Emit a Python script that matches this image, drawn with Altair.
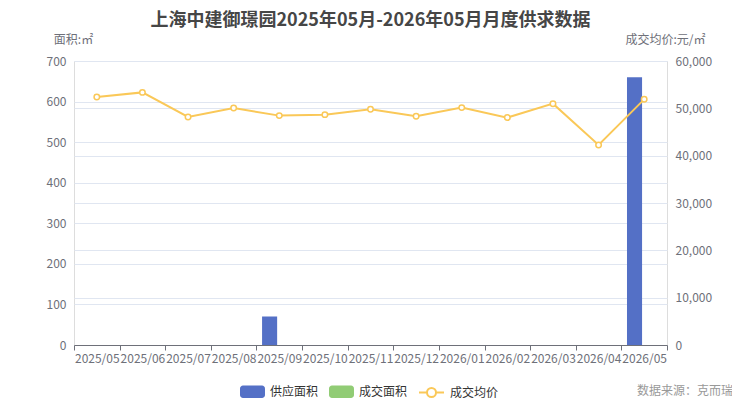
import altair as alt
import pandas as pd

months = ["2025/05", "2025/06", "2025/07", "2025/08", "2025/09", "2025/10", "2025/11",
          "2025/12", "2026/01", "2026/02", "2026/03", "2026/04", "2026/05"]
supply_area = [0, 0, 0, 0, 70, 0, 0, 0, 0, 0, 0, 0, 660]
deal_area = [0, 0, 0, 0, 0, 0, 0, 0, 0, 0, 0, 0, 0]
avg_price = [52380, 53370, 48170, 50060, 48460, 48670, 49790, 48310, 50150, 48040, 50990, 42260, 51900]

series_bar = ["供应面积", "成交面积"]
series_line = ["成交均价"]
bar_colors = ["#5470C6", "#91CC75"]
line_color = "#FAC858"

FONT = "Noto Sans CJK SC"
GRID = "#E0E6F1"
AXC = "#6E7079"

bar_df = pd.DataFrame({
    "month": months * 2,
    "series": [series_bar[0]] * len(months) + [series_bar[1]] * len(months),
    "value": supply_area + deal_area,
})
line_df = pd.DataFrame({"month": months, "series": series_line[0], "price": avg_price})

rect_path = ("M-0.76,-0.5 H0.76 A0.24,0.24 0 0 1 1,-0.26 V0.26 A0.24,0.24 0 0 1 0.76,0.5 "
             "H-0.76 A0.24,0.24 0 0 1 -1,0.26 V-0.26 A0.24,0.24 0 0 1 -0.76,-0.5 Z")
line_path = ("M-1,0 H-0.36 M0.36,0 H1 M0.36,0 A0.36,0.36 0 1 1 -0.36,0 "
             "A0.36,0.36 0 1 1 0.36,0")

x_axis = alt.Axis(title=None, tickBand="extent", labelAngle=0, labelFontSize=12,
                  labelColor=AXC, domainColor=AXC, tickColor=AXC, tickSize=5,
                  labelPadding=3, grid=False, labelOverlap=False, labelBound=False,
                  labelFlush=False, labelFont=FONT)

x_enc = alt.X("month:N", sort=months, scale=alt.Scale(paddingInner=0, paddingOuter=0),
              axis=x_axis)

bars = alt.Chart(bar_df).mark_bar().encode(
    x=x_enc,
    xOffset=alt.XOffset("series:N", sort=series_bar,
                        scale=alt.Scale(paddingInner=0.22, paddingOuter=0.29)),
    y=alt.Y("value:Q",
            scale=alt.Scale(domain=[0, 700], nice=False),
            axis=alt.Axis(orient="left", values=list(range(0, 701, 100)), grid=True,
                          gridColor=GRID, domain=False, ticks=False, labelPadding=8,
                          labelColor=AXC, labelFontSize=12, labelFont=FONT,
                          title="面积:㎡", titleAngle=0, titleX=-1, titleY=-22,
                          titleAlign="center", titleBaseline="middle", titleColor=AXC,
                          titleFontWeight="normal", titleFontSize=12, titleFont=FONT)),
    fill=alt.Fill("series:N", sort=series_bar,
                  scale=alt.Scale(domain=series_bar, range=bar_colors),
                  legend=alt.Legend(title=None, orient="none", legendX=166, legendY=318,
                                    direction="horizontal", symbolType=rect_path,
                                    symbolSize=625, symbolStrokeWidth=0,
                                    labelFontSize=12, labelColor="#333333", labelFont=FONT,
                                    labelOffset=5, columnPadding=10)),
)

line = alt.Chart(line_df).mark_line(
    strokeWidth=2,
    point=alt.OverlayMarkDef(filled=False, fill="white", size=30, strokeWidth=1.5,
                             color=line_color),
).encode(
    x=x_enc,
    y=alt.Y("price:Q",
            scale=alt.Scale(domain=[0, 60000], nice=False),
            axis=alt.Axis(orient="right", values=list(range(0, 60001, 10000)), format=",d",
                          grid=True, gridColor=GRID, domain=False, ticks=False,
                          labelPadding=8, labelColor=AXC, labelFontSize=12, labelFont=FONT,
                          title="成交均价:元/㎡", titleAngle=0, titleX=-2, titleY=-22,
                          titleAlign="center", titleBaseline="middle", titleColor=AXC,
                          titleFontWeight="normal", titleFontSize=12, titleFont=FONT)),
    stroke=alt.Stroke("series:N",
                      scale=alt.Scale(domain=series_line, range=[line_color]),
                      legend=alt.Legend(title=None, orient="none", legendX=344, legendY=318,
                                        direction="horizontal", symbolType=line_path,
                                        symbolSize=625, symbolStrokeWidth=2,
                                        symbolFillColor="white",
                                        labelFontSize=12, labelColor="#333333",
                                        labelFont=FONT, labelOffset=5)),
)

source = alt.Chart(pd.DataFrame({"t": ["数据来源：克而瑞"]})).mark_text(
    align="right", baseline="middle", fontSize=12, color="#999999", font=FONT
).encode(text="t:N", x=alt.value(659), y=alt.value(330))

chart = alt.layer(bars, line, source).resolve_scale(y="independent").properties(
    width=593, height=284,
    title=alt.TitleParams("上海中建御璟园2025年05月-2026年05月月度供求数据", fontSize=18,
                          fontWeight="bold", color="#464646", anchor="middle", font=FONT,
                          offset=3),
    autosize=alt.AutoSizeParams(type="none"),
    padding={"left": 66, "top": 53, "right": 65, "bottom": 53},
).configure_view(stroke=None).configure(font=FONT)

chart.save("out.html", embed_options={"renderer": "svg", "actions": False})
